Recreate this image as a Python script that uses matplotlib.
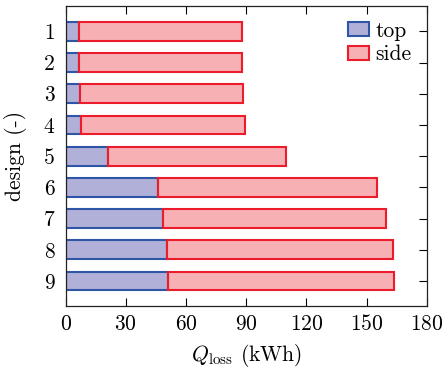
import matplotlib
matplotlib.use("Agg")
import matplotlib.pyplot as plt
import numpy as np

designs = ["1", "2", "3", "4", "5", "6", "7", "8", "9"]
top = [6.5, 6.6, 7.1, 7.8, 20.9, 45.8, 48.3, 50.4, 50.8]
side = [81.3, 81.4, 81.3, 81.5, 89.1, 109.3, 111.5, 112.7, 113.1]
xticks = [0, 30, 60, 90, 120, 150, 180]

plt.rcParams.update({
    "font.family": "serif",
    "font.serif": ["cmr10"],
    "mathtext.fontset": "cm",
    "axes.formatter.use_mathtext": True,
    "font.size": 15.5,
})

fig = plt.figure(figsize=(4.43, 3.69), dpi=100)
ax = fig.add_axes([65.7 / 443, 63.3 / 369, 361.0 / 443, 299.7 / 369])

y = np.arange(1, len(designs) + 1)
ax.barh(y, top, height=0.6, color="#b0b0d8", edgecolor="#2f56a6",
        linewidth=1.5, label="top", zorder=2)
ax.barh(y, side, left=top, height=0.6, color="#f7b0b4", edgecolor="#ec1c2c",
        linewidth=1.5, label="side", zorder=2)

ax.set_xlim(0, 180)
ax.set_ylim(9.79, 0.19)
ax.set_xticks(xticks)
ax.set_yticks(y)
ax.set_yticklabels(designs)
ax.tick_params(direction="in", top=True, right=True, length=5.5, width=0.8,
               labelsize=15.5)
ax.tick_params(axis="x", pad=6)
ax.tick_params(axis="y", pad=8)
for s in ax.spines.values():
    s.set_linewidth(0.9)
    s.set_color("#222222")

ax.set_xlabel(r"$Q_\mathrm{loss}$ (kWh)", fontsize=15.5, labelpad=6)
ax.set_ylabel("design (-)", fontsize=15.5, labelpad=12)

ax.legend(loc="upper right", frameon=False, handlelength=1.0, handleheight=0.6,
          handletextpad=0.3, labelspacing=0.2, borderaxespad=0.3,
          fontsize=15.5)

fig.savefig("out.png", dpi=100)
